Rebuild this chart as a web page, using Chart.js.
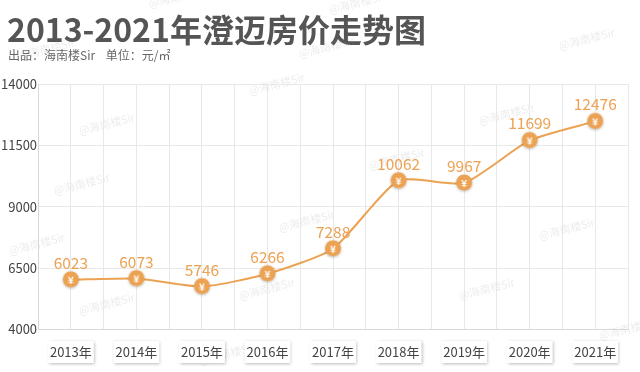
<!DOCTYPE html>
<html>
<head>
<meta charset="utf-8">
<script src="https://cdn.jsdelivr.net/npm/chart.js@4/dist/chart.umd.min.js"></script>
<style>
  html, body { margin: 0; padding: 0; background: #fff; }
  #wrap { width: 640px; height: 372px; }
</style>
</head>
<body>
<div id="wrap"><canvas id="myChart"></canvas></div>
<script>
var years = ["2013年", "2014年", "2015年", "2016年", "2017年", "2018年", "2019年", "2020年", "2021年"];
var prices = [6023, 6073, 5746, 6266, 7288, 10062, 9967, 11699, 12476];
var yTicks = [4000, 6500, 9000, 11500, 14000];

var FONT = "'Noto Sans CJK SC', 'Noto Sans', sans-serif";
var ORANGE = "#eca253";

// yuan marker used as point style
function makeMarker() {
  var c = document.createElement("canvas");
  c.width = 24; c.height = 24;
  var g = c.getContext("2d");
  g.shadowColor = "rgba(0,0,0,0.25)";
  g.shadowBlur = 3;
  g.shadowOffsetY = 1;
  g.beginPath();
  g.arc(12, 11.5, 8, 0, Math.PI * 2);
  g.fillStyle = ORANGE;
  g.fill();
  g.shadowColor = "transparent";
  g.fillStyle = "#fff";
  g.font = "bold 10px " + FONT;
  g.textAlign = "center";
  g.textBaseline = "middle";
  g.fillText("¥", 12, 12);
  return c;
}

var headerPlugin = {
  id: "header",
  beforeDraw: function (chart) {
    var g = chart.ctx;
    g.save();
    g.fillStyle = "#fff";
    g.fillRect(0, 0, chart.width, chart.height);
    g.fillStyle = "#555";
    g.font = "bold 32px " + FONT;
    g.textBaseline = "alphabetic";
    g.fillText("2013-2021年澄迈房价走势图", 7, 42);
    g.fillStyle = "#666";
    g.font = "12px " + FONT;
    g.fillText("出品：海南楼Sir    单位：元/㎡", 8, 60);
    // faint watermarks
    g.fillStyle = "rgba(150,150,150,0.18)";
    g.font = "11px " + FONT;
    var marks = [[150, 8], [330, 14], [20, 60], [300, 58], [80, 135], [250, 95], [560, 50], [55, 195], [370, 170], [480, 125], [10, 255], [280, 232], [540, 240], [80, 315], [240, 300], [460, 300], [600, 340], [200, 365]];
    marks.forEach(function (m) {
      g.save();
      g.translate(m[0], m[1]);
      g.rotate(-0.25);
      g.fillText("@海南楼Sir", 0, 0);
      g.restore();
    });
    g.restore();
  },
  afterDraw: function (chart) {
    var g = chart.ctx;
    var xs = chart.scales.x;
    g.save();
    g.font = "13px " + FONT;
    g.textAlign = "center";
    g.textBaseline = "middle";
    years.forEach(function (lab, i) {
      var x = xs.getPixelForValue(i);
      var y = 352;
      g.save();
      g.shadowColor = "rgba(0,0,0,0.28)";
      g.shadowBlur = 3;
      g.shadowOffsetX = 1;
      g.shadowOffsetY = 1;
      g.fillStyle = "#fff";
      g.fillRect(x - 23, y - 11, 46, 22);
      g.restore();
      g.fillStyle = "#444";
      g.fillText(lab, x, y);
    });
    g.restore();
  },
  afterDatasetsDraw: function (chart) {
    var g = chart.ctx;
    var meta = chart.getDatasetMeta(0);
    g.save();
    g.fillStyle = ORANGE;
    g.font = "15.5px " + FONT;
    g.textAlign = "center";
    g.textBaseline = "alphabetic";
    meta.data.forEach(function (pt, i) {
      g.fillText(String(prices[i]), pt.x, pt.y - 11);
    });
    g.restore();
  }
};

var marker = makeMarker();
var ctx = document.getElementById("myChart").getContext("2d");
var chart = new Chart(ctx, {
  type: "line",
  data: {
    labels: years,
    datasets: [{
      data: prices,
      borderColor: ORANGE,
      borderWidth: 2,
      tension: 0.2,
      pointStyle: marker,
      pointRadius: 10,
      pointHoverRadius: 10
    }]
  },
  options: {
    responsive: true,
    maintainAspectRatio: false,
    animation: false,
    events: [],
    layout: { padding: { top: 84, right: 2, bottom: 7, left: 0 } },
    plugins: {
      legend: { display: false },
      tooltip: { enabled: false }
    },
    scales: {
      x: {
        type: "category",
        offset: true,
        grid: { display: false, drawTicks: false },
        border: { color: "#d8d8d8" },
        ticks: { color: "rgba(0,0,0,0)", padding: 10, font: { size: 13, family: FONT } }
      },
      x2: {
        type: "linear",
        min: 0,
        max: 18,
        display: true,
        position: "bottom",
        grid: { color: "#e8e8e8", drawTicks: false },
        border: { display: false },
        ticks: { display: false, stepSize: 1 }
      },
      y: {
        min: 4000,
        max: 14000,
        afterBuildTicks: function (axis) {
          axis.ticks = yTicks.map(function (v) { return { value: v }; });
        },
        grid: { color: "#e8e8e8", drawTicks: false },
        border: { color: "#d8d8d8" },
        ticks: {
          color: "#444",
          padding: 1,
          font: { size: 13, family: FONT },
          callback: function (v) { return String(v); }
        }
      }
    }
  },
  plugins: [headerPlugin]
});
</script>
</body>
</html>
